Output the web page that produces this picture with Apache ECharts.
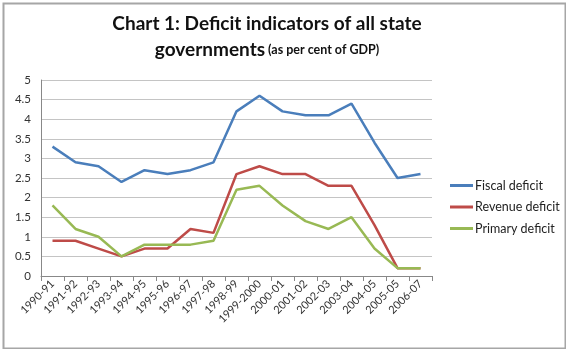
<!DOCTYPE html>
<html><head><meta charset="utf-8">
<script src="https://cdn.jsdelivr.net/npm/echarts@6/dist/echarts.min.js"></script>
<style>html,body{margin:0;padding:0;background:#fff}#c{width:566px;height:349px}</style>
</head><body><div id="c"></div>
<script>
const categories = ['1990-91','1991-92','1992-93','1993-94','1994-95','1995-96','1996-97','1997-98','1998-99','1999-2000','2000-01','2001-02','2002-03','2003-04','2004-05','2005-05','2006-07'];
const fiscalDeficit  = [3.3, 2.9, 2.8, 2.4, 2.7, 2.6, 2.7, 2.9, 4.2, 4.6, 4.2, 4.1, 4.1, 4.4, 3.4, 2.5, 2.6];
const revenueDeficit = [0.9, 0.9, 0.7, 0.5, 0.7, 0.7, 1.2, 1.1, 2.6, 2.8, 2.6, 2.6, 2.3, 2.3, 1.3, 0.2, 0.2];
const primaryDeficit = [1.8, 1.2, 1.0, 0.5, 0.8, 0.8, 0.8, 0.9, 2.2, 2.3, 1.8, 1.4, 1.2, 1.5, 0.7, 0.2, 0.2];
const seriesNames = ['Fiscal deficit', 'Revenue deficit', 'Primary deficit'];

const FONT = 'Lato, "Open Sans", sans-serif';
const chart = echarts.init(document.getElementById('c'), null, {renderer: 'canvas'});
const mk = (name, data, color) => ({
  name, type: 'line', data, symbol: 'none', smooth: false,
  lineStyle: {color, width: 2.5}, itemStyle: {color}
});
chart.setOption({
  animation: false,
  backgroundColor: '#fff',
  graphic: [{
    type: 'rect', left: 1, top: 1,
    shape: {width: 562, height: 345},
    style: {fill: 'none', stroke: '#a6a6a6', lineWidth: 2}
  }],
  title: {
    text: 'Chart 1: Deficit indicators of all state\n{big|governments}{small| (as per cent of GDP)}',
    left: 262, top: 6, textAlign: 'center',
    textStyle: {
      fontFamily: FONT, fontSize: 19, fontWeight: 'bold', color: '#111', lineHeight: 26,
      rich: {
        big: {fontFamily: FONT, fontSize: 19, fontWeight: 'bold', color: '#111', lineHeight: 26},
        small: {fontFamily: FONT, fontSize: 12.5, fontWeight: 'bold', color: '#111', lineHeight: 26}
      }
    }
  },
  legend: {
    orient: 'vertical', left: 450, top: 179, itemGap: 8.5, padding: 0,
    itemWidth: 23, itemHeight: 3, icon: 'rect', itemStyle: {borderWidth: 0},
    textStyle: {fontFamily: FONT, fontSize: 12.5, color: '#222', padding: [0, 0, 0, -3]},
    data: seriesNames
  },
  grid: {left: 41, right: 134, top: 80, bottom: 73, containLabel: false},
  xAxis: {
    type: 'category', data: categories, boundaryGap: true,
    axisLine: {lineStyle: {color: '#888', width: 1}},
    axisTick: {show: true, length: 5, lineStyle: {color: '#888'}, alignWithLabel: false},
    axisLabel: {rotate: 45, interval: 0, fontFamily: FONT, fontSize: 11, color: '#333', margin: 6}
  },
  yAxis: {
    type: 'value', min: 0, max: 5, interval: 0.5,
    axisLine: {show: true, lineStyle: {color: '#888'}},
    axisTick: {show: false},
    splitLine: {lineStyle: {color: '#c4c4c4', width: 1}},
    axisLabel: {fontFamily: FONT, fontSize: 11.5, color: '#333', margin: 10}
  },
  series: [
    mk(seriesNames[0], fiscalDeficit, '#4a7ebb'),
    mk(seriesNames[1], revenueDeficit, '#be4b48'),
    mk(seriesNames[2], primaryDeficit, '#98b954')
  ]
});
</script></body></html>
